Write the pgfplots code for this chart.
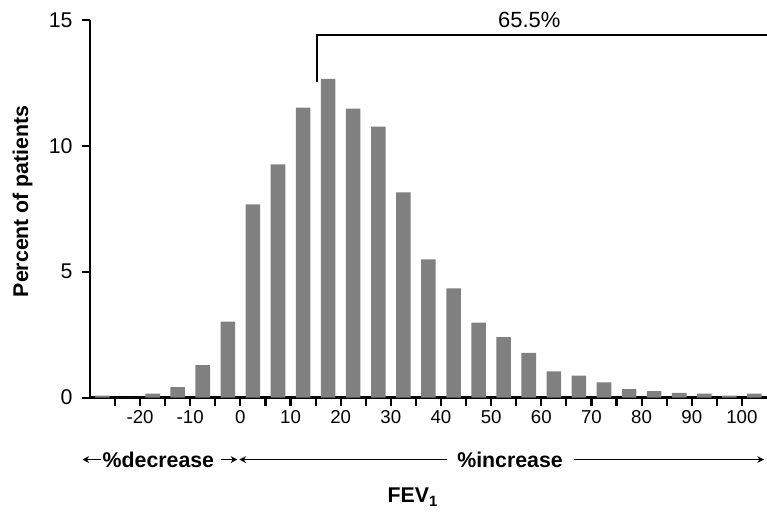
\documentclass[border=0pt]{standalone}
\usepackage{pgfplots}
\pgfplotsset{compat=1.18}
\usepackage{fontspec}
\setmainfont{Liberation Sans}
\usetikzlibrary{arrows.meta}
\begin{document}
\begin{tikzpicture}
\begin{axis}[
 scale only axis, width=508.3pt, height=283.5pt,
 xmin=-30, xmax=105, ymin=0, ymax=15,
 axis x line*=bottom, axis y line*=left,
 axis line style={line width=2pt},
 tick align=outside,
 major tick length=6pt, minor tick length=6pt,
 tick style={line width=1.6pt, black},
 xtick={-20,-10,...,100},
 minor xtick={-25,-15,...,95},
 ytick={0,5,10,15},
 xticklabel={\fontsize{14}{16}\selectfont\pgfmathprintnumber[assume math mode=true]{\tick}},
 yticklabel={\fontsize{16}{18}\selectfont\pgfmathprintnumber[assume math mode=true]{\tick}},
 xticklabel style={yshift=0pt},
 yticklabel style={xshift=-3.5pt},
 clip=false,
]
\addplot[ybar, bar width=2.9, fill=gray, draw=none] coordinates {
(-27.5,0.08) (-22.5,0) (-17.5,0.16) (-12.5,0.42) (-7.5,1.29) (-2.5,3.02)
(2.5,7.68) (7.5,9.26) (12.5,11.52) (17.5,12.66) (22.5,11.48) (27.5,10.76)
(32.5,8.15) (37.5,5.49) (42.5,4.34) (47.5,2.98) (52.5,2.40) (57.5,1.78)
(62.5,1.04) (67.5,0.87) (72.5,0.61) (77.5,0.34) (82.5,0.26) (87.5,0.19)
(92.5,0.16) (97.5,0.08) (102.5,0.16)
};
\coordinate (SW) at (rel axis cs:0,0);
\coordinate (NE) at (rel axis cs:1,1);
% bracket
\draw[line width=1.5pt] (axis cs:15.3,12.55) -- (axis cs:15.3,14.4) -- (axis cs:105,14.4);
\node[font=\fontsize{16.5}{19}\selectfont] at (axis cs:57.6,15.0) {65.5\%};
% y label
\node[rotate=90, font=\fontsize{16}{19}\selectfont\bfseries] at (axis cs:-43.4,7.8) {Percent of patients};
% decrease / increase
\node[anchor=base west, inner sep=0, font=\fontsize{16}{19}\selectfont\bfseries] at (axis cs:-27.5,-2.78) {\%decrease};
\node[anchor=base west, inner sep=0, font=\fontsize{16}{19}\selectfont\bfseries] at (axis cs:43.2,-2.78) {\%increase};
\draw[line width=1pt, -{Stealth[length=5pt,width=5pt]}] (axis cs:-27.7,-2.46) -- (axis cs:-31.5,-2.46);
\draw[line width=1pt, -{Stealth[length=5pt,width=5pt]}] (axis cs:-3.8,-2.46) -- (axis cs:-0.6,-2.46);
\draw[line width=1pt, -{Stealth[length=5pt,width=5pt]}] (axis cs:41.2,-2.46) -- (axis cs:-0.2,-2.46);
\draw[line width=1pt, -{Stealth[length=5pt,width=5pt]}] (axis cs:66.5,-2.46) -- (axis cs:104.4,-2.46);
% FEV1
\node[anchor=base west, inner sep=0, font=\fontsize{16}{19}\selectfont\bfseries] at (axis cs:29.3,-4.17) {FEV\textsubscript{1}};
\end{axis}
\path (SW) ++(-67.5pt,-90pt) coordinate (BL);
\path (NE) ++(0pt,15pt) coordinate (TR);
\pgfresetboundingbox
\path[use as bounding box] (BL) rectangle (TR);
\end{tikzpicture}
\end{document}
